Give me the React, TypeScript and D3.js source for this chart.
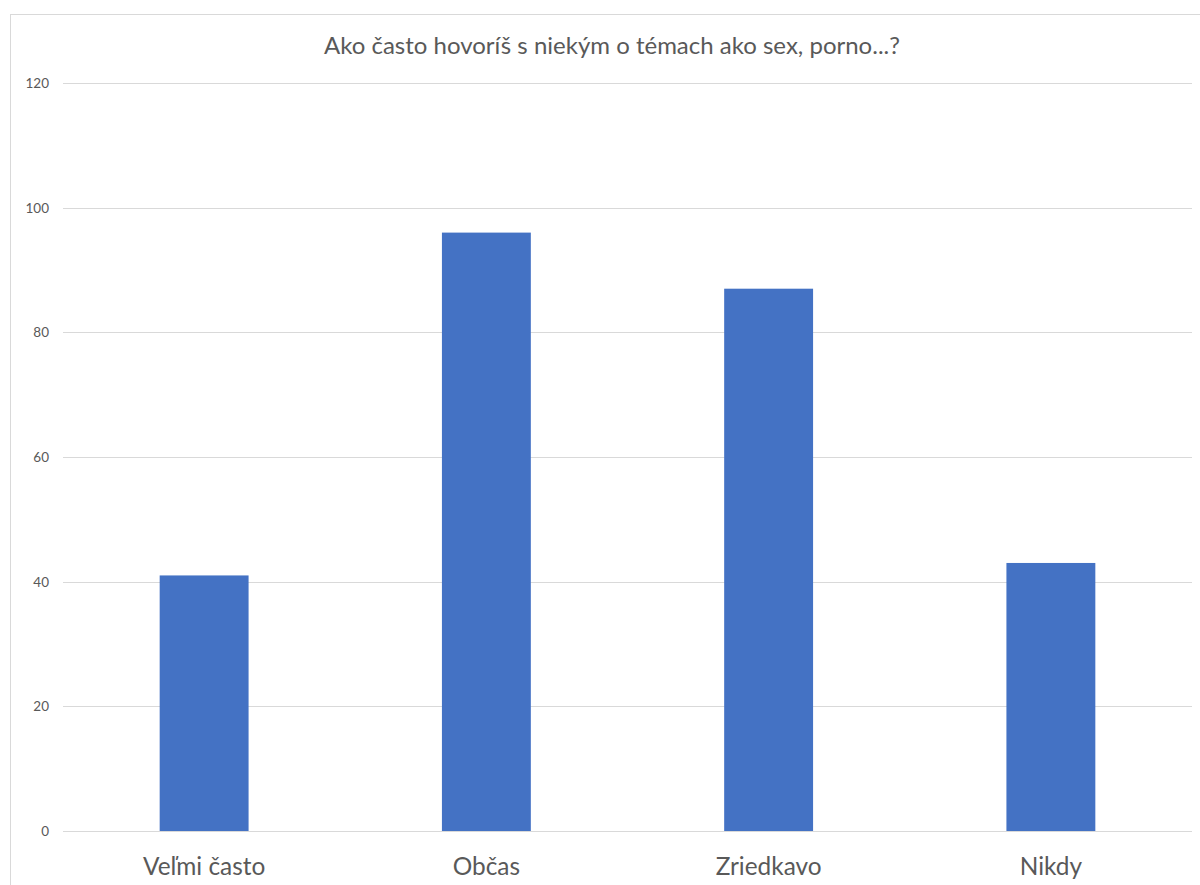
import React from "react";
import * as d3 from "d3";

const title = "Ako často hovoríš s niekým o témach ako sex, porno...?";
const categories = ["Veľmi často", "Občas", "Zriedkavo", "Nikdy"];
const values = [41, 96, 87, 43];
const yTicks = [0, 20, 40, 60, 80, 100, 120];

export default function App() {
  const W = 1200, H = 885;
  const left = 63, right = 1192, top = 83, bottom = 831;
  const x = d3.scaleBand<string>().domain(categories).range([left, right]).paddingInner(0.685).paddingOuter(0.3425);
  const y = d3.scaleLinear().domain([0, 120]).range([bottom, top]);
  const font = "Lato, 'Open Sans', sans-serif";
  return (
    <svg width={W} height={H} style={{ position: "absolute", left: 0, top: 0, background: "#fff" }} fontFamily={font}>
      <rect x={10.5} y={14.5} width={1200} height={900} fill="#fff" stroke="#d9d9d9" strokeWidth={1} />
      <text x={612} y={54} textAnchor="middle" fontSize={24} fill="#595959">{title}</text>
      {yTicks.map((t) => (
        <g key={t}>
          <line x1={left} x2={right} y1={Math.round(y(t)) + 0.5} y2={Math.round(y(t)) + 0.5} stroke="#d9d9d9" strokeWidth={1} />
          <text x={49} y={y(t) + 5} textAnchor="end" fontSize={13.5} fill="#595959">{t}</text>
        </g>
      ))}
      {categories.map((c, i) => (
        <rect key={c} x={x(c)} y={y(values[i])} width={x.bandwidth()} height={y(0) - y(values[i])} fill="#4472C4" />
      ))}
      {categories.map((c) => (
        <text key={c} x={(x(c) as number) + x.bandwidth() / 2} y={875} textAnchor="middle" fontSize={24.4} fill="#595959">{c}</text>
      ))}
    </svg>
  );
}
